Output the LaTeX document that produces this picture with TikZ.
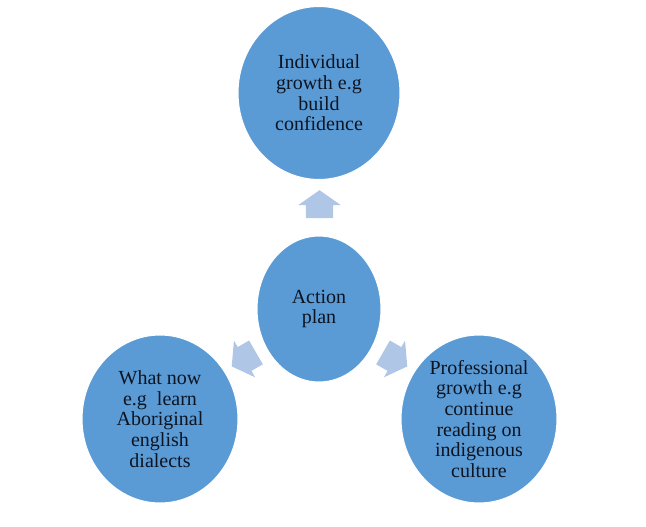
\documentclass[tikz,border=0pt]{standalone}
\usepackage{fontspec}
\setmainfont{Liberation Serif}
\usetikzlibrary{shapes.geometric, shapes.arrows}
\definecolor{BubbleBlue}{RGB}{91,155,213}
\definecolor{ArrowBlue}{RGB}{176,198,230}
\definecolor{InkDark}{RGB}{12,20,34}

\begin{document}
\begin{tikzpicture}[
    x=0.75pt, y=-0.75pt,
    bubble/.style={ellipse, fill=BubbleBlue, draw=white, line width=0.8pt, inner sep=0pt},
    txt/.style={align=center, text=InkDark, font=\fontsize{15}{15.5}\selectfont},
    spoke/.style={single arrow, fill=ArrowBlue, draw=none, inner xsep=0pt, inner ysep=10.1pt,
        minimum height=21pt, minimum width=31.5pt,
        single arrow head extend=5.6pt, single arrow tip angle=110},
]
\useasboundingbox (0,0) rectangle (646,526);

% ============ centre ============
\node[bubble, minimum width=93pt, minimum height=109.5pt] (plan) at (319,309) {};
\node[txt] at (plan) {Action\\plan};

% ============ top ============
\node[bubble, minimum width=121.5pt, minimum height=129.75pt] (indiv) at (319,93) {};
\node[txt] at (indiv) {Individual\\growth e.g\\build\\confidence};
\node[spoke, rotate=90] (upArrow) at (319.5,209) {};

% ============ left ============
\node[bubble, minimum width=117pt, minimum height=126pt] (whatnow) at (160,419) {};
\node[txt] at (whatnow) {What now\\e.g~ learn\\Aboriginal\\english\\dialects};
\node[spoke, rotate=210] (leftArrow) at (248,357) {};

% ============ right ============
\node[bubble, minimum width=117pt, minimum height=126pt] (prof) at (479,419) {};
\node[txt] at (prof) {Professional\\growth e.g\\continue\\reading on\\indigenous\\culture};
\node[spoke, rotate=-30] (rightArrow) at (391,357) {};

\end{tikzpicture}
\end{document}
